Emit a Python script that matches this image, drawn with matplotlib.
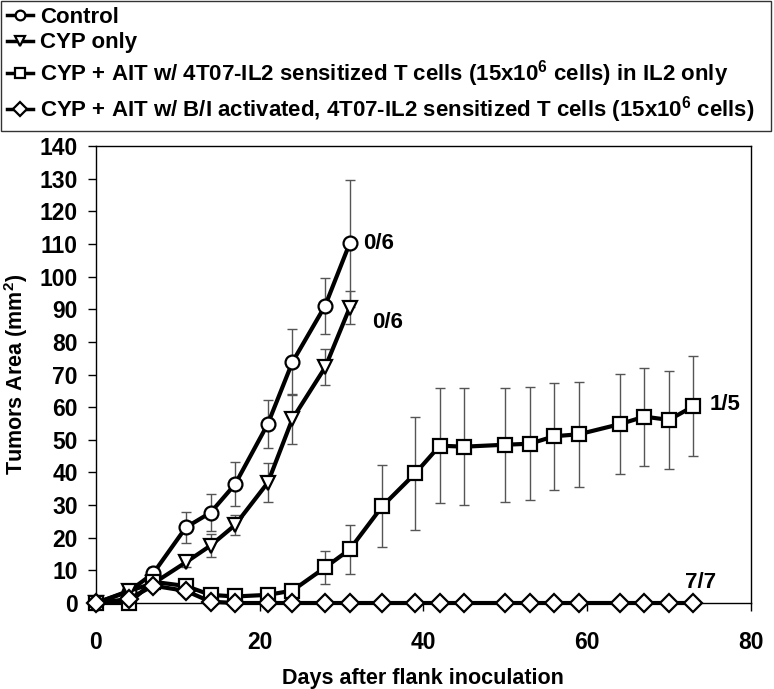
import numpy as np
import matplotlib
matplotlib.use("Agg")
import matplotlib.pyplot as plt

plt.rcParams["font.family"] = ["Liberation Sans", "DejaVu Sans"]
plt.rcParams["font.weight"] = "bold"
plt.rcParams["mathtext.fontset"] = "custom"
plt.rcParams["mathtext.rm"] = "Liberation Sans:bold"
plt.rcParams["mathtext.bf"] = "Liberation Sans:bold"
plt.rcParams["mathtext.default"] = "rm"

# days after flank inoculation
days = [0, 4, 7, 11, 14, 17, 21, 24, 28, 31, 35, 39, 42, 45, 50, 53, 56, 59, 64, 67, 70, 73]
days_short = days[:10]

control = [0, 3.5, 9.1, 23.2, 27.7, 36.4, 54.9, 73.8, 91.1, 110.2]
control_err = [0, 1.0, 2.0, 4.7, 5.6, 6.8, 7.4, 10.0, 8.6, 19.4]

cyp = [0, 3.7, 6.0, 12.5, 17.6, 23.9, 36.9, 56.4, 72.2, 90.5]
cyp_err = [0, 1.0, 1.5, 1.5, 3.4, 3.0, 6.0, 7.6, 5.5, 5.0]

cyp_ait = [0, 0, 6.5, 5.2, 2.5, 2.0, 2.5, 3.8, 10.9, 16.4, 29.7, 39.7,
           48.2, 47.9, 48.5, 48.8, 51.1, 51.7, 54.8, 57.1, 56.1, 60.3]
cyp_ait_err = [0, 0, 1.0, 1.0, 1.0, 1.5, 2.0, 2.0, 5.0, 7.5, 12.6, 17.4,
               17.6, 17.9, 17.4, 17.3, 16.4, 16.1, 15.3, 15.0, 15.0, 15.3]

cyp_ait_bi = [0, 1.2, 5.3, 3.7, 0.4, 0, 0, 0, 0, 0, 0, 0,
              0, 0, 0, 0, 0, 0, 0, 0, 0, 0]
cyp_ait_bi_err = [0, 0.5, 1.0, 1.0, 0.5, 0, 0, 0, 0, 0, 0, 0,
                  0, 0, 0, 0, 0, 0, 0, 0, 0, 0]

labels = [
    "Control",
    "CYP only",
    r"CYP + AIT w/ 4T07-IL2 sensitized T cells (15x10$^{6}$ cells) in IL2 only",
    r"CYP + AIT w/ B/I activated, 4T07-IL2 sensitized T cells (15x10$^{6}$ cells)",
]
ratios = ["0/6", "0/6", "1/5", "7/7"]
ratio_pos = [(32.6, 110.3), (33.7, 86.0), (75.0, 60.7), (72.0, 6.4)]

fig = plt.figure(figsize=(7.74, 6.89), dpi=100)
ax = fig.add_axes([0.124, 0.1248, 0.846, 0.6632])

series = [
    (days_short, control, control_err, "o"),
    (days_short, cyp, cyp_err, "v"),
    (days, cyp_ait, cyp_ait_err, "s"),
    (days, cyp_ait_bi, cyp_ait_bi_err, "D"),
]
sizes = {"o": 10, "v": 10, "s": 10, "D": 9}

for (x, y, e, m), lab in zip(series, labels):
    ax.errorbar(x, y, yerr=e, fmt="none", ecolor="#555555", elinewidth=1,
                capsize=3.5, capthick=1, zorder=2)
    ax.plot(x, y, color="black", lw=3, marker=m, ms=sizes[m], mfc="white",
            mec="black", mew=1.6, label=lab, zorder=3, clip_on=False)

for txt, (x, y) in zip(ratios, ratio_pos):
    ax.text(x, y, txt, fontsize=16, fontweight="bold", va="center", ha="left")

ax.set_xlim(0, 80)
ax.set_ylim(0, 140)
ax.set_xticks(range(0, 81, 20))
ax.set_yticks(range(0, 141, 10))
ax.tick_params(axis="both", direction="out", length=6, width=1, labelsize=16.5)
ax.tick_params(axis="y", pad=7)
ax.tick_params(axis="x", pad=14)
for lbl in ax.get_xticklabels() + ax.get_yticklabels():
    lbl.set_fontweight("bold")
for s in ax.spines.values():
    s.set_linewidth(1)

ax.set_xlabel("Days after flank inoculation", fontsize=15.5, fontweight="bold", labelpad=10)
ax.set_ylabel("Tumors Area (mm$^{2}$)", fontsize=15.5, fontweight="bold", labelpad=7)

leg = fig.legend(loc="upper left", bbox_to_anchor=(0.0013, 0.0, 0.995, 0.9985),
                 mode="expand", borderaxespad=0, fontsize=16, frameon=True,
                 fancybox=False, edgecolor="black", handlelength=1.2,
                 labelspacing=0.22, borderpad=0.25, handletextpad=0.3)
leg.get_frame().set_linewidth(1)
for h in leg.legend_handles:
    h.set_markersize(7)
    h.set_linewidth(2.5)

fig.savefig("out.png", dpi=100)
